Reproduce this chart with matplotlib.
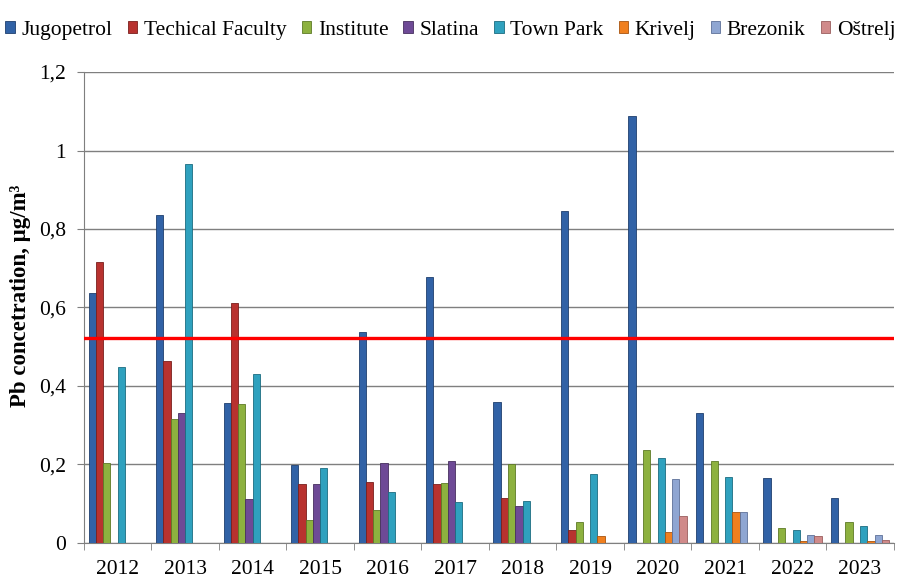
import numpy as np
import matplotlib.pyplot as plt
from matplotlib.patches import Patch
from matplotlib.ticker import FuncFormatter, FixedLocator

plt.rcParams['font.family'] = ['Liberation Serif', 'DejaVu Serif']

years = ['2012', '2013', '2014', '2015', '2016', '2017',
         '2018', '2019', '2020', '2021', '2022', '2023']

# Pb concentration, ug/m3 (0 = no measurement shown)
jugopetrol = [0.638, 0.836, 0.357, 0.199, 0.538, 0.677, 0.360, 0.846, 1.088, 0.330, 0.166, 0.114]
techical_faculty = [0.717, 0.464, 0.611, 0.149, 0.156, 0.149, 0.114, 0.033, 0, 0, 0, 0]
institute = [0.203, 0.315, 0.354, 0.059, 0.084, 0.154, 0.200, 0.053, 0.237, 0.209, 0.037, 0.053]
slatina = [0, 0.330, 0.112, 0.149, 0.203, 0.209, 0.094, 0, 0, 0, 0, 0]
town_park = [0.449, 0.965, 0.430, 0.192, 0.129, 0.104, 0.107, 0.176, 0.216, 0.169, 0.033, 0.044]
krivelj = [0, 0, 0, 0, 0, 0, 0, 0.018, 0.027, 0.080, 0.005, 0.004]
brezonik = [0, 0, 0, 0, 0, 0, 0, 0, 0.163, 0.080, 0.020, 0.020]
ostrelj = [0, 0, 0, 0, 0, 0, 0, 0, 0.068, 0, 0.018, 0.007]

limit_value = 0.523

names = ['Jugopetrol', 'Techical Faculty', 'Institute', 'Slatina',
         'Town Park', 'Krivelj', 'Brezonik', 'Oštrelj']
series = [jugopetrol, techical_faculty, institute, slatina,
          town_park, krivelj, brezonik, ostrelj]
colors = ['#3162A6', '#B8322F', '#8DB13F', '#6E4A96',
          '#2FA1BE', '#F07F1E', '#8FA6D2', '#D08A8A']
edges = ['#1F3F6E', '#7A1F1D', '#5E7A26', '#47305F',
         '#1C6C80', '#A85410', '#5D7199', '#9A5E5E']

fig = plt.figure(figsize=(9.01, 5.78), dpi=100)
ax = fig.add_axes([0.0932, 0.0606, 0.8988, 0.8148])

x = np.arange(len(years))
w = 0.108
for i, (vals, c, ec) in enumerate(zip(series, colors, edges)):
    v = np.asarray(vals, dtype=float)
    m = v > 0
    pos = x - 4 * w + w / 2 + i * w
    ax.bar(pos[m], v[m], width=w, color=c, edgecolor=ec, linewidth=0.6, zorder=3)

ax.axhline(limit_value, color='#FF0000', lw=2.4, zorder=5)

ax.set_xlim(-0.5, len(years) - 0.5)
ax.set_ylim(0, 1.2)
ax.set_yticks(np.arange(0, 1.21, 0.2))
ax.yaxis.set_major_formatter(FuncFormatter(lambda v, p: ('%g' % round(v, 1)).replace('.', ',')))
ax.yaxis.grid(True, color='#7F7F7F', lw=1.0, zorder=0)
ax.set_axisbelow(True)

ax.set_xticks(x)
ax.set_xticklabels(years)
ax.xaxis.set_minor_locator(FixedLocator(np.arange(-0.5, len(years), 1.0)))
ax.tick_params(axis='x', which='major', length=0, pad=12, labelsize=15.5)
ax.tick_params(axis='x', which='minor', length=5, color='#7F7F7F', direction='out')
ax.tick_params(axis='y', length=5, color='#7F7F7F', pad=8, labelsize=15.5)

for s in ['top', 'right']:
    ax.spines[s].set_visible(False)
for s in ['left', 'bottom']:
    ax.spines[s].set_color('#7F7F7F')

fig.text(0.023, 0.488, 'Pb concetration, μg/m³', rotation=90, ha='center', va='center',
         fontsize=16.5, fontweight='bold')

handles = [Patch(facecolor=c, edgecolor=ec, lw=0.6) for c, ec in zip(colors, edges)]
fig.legend(handles, names, loc='upper center', bbox_to_anchor=(0.5, 0.99), ncol=8,
           frameon=False, fontsize=15.5, handlelength=0.45, handleheight=0.45,
           handletextpad=0.3, columnspacing=0.7, borderaxespad=0.3)

fig.savefig('out.png', dpi=100)
